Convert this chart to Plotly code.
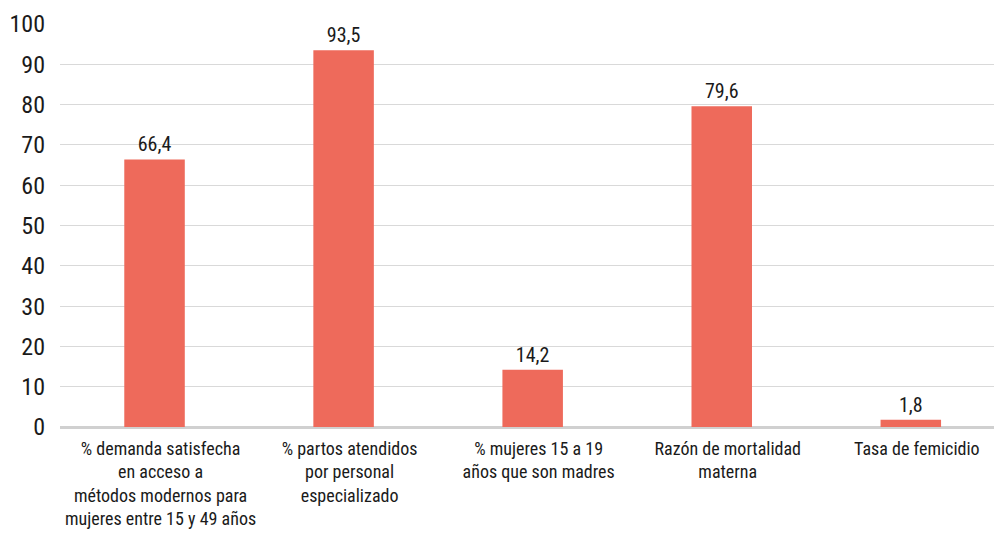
import plotly.graph_objects as go

categories = [
    "% demanda satisfecha<br>en acceso a<br>métodos modernos para<br>mujeres entre 15 y 49 años",
    "% partos atendidos<br>por personal<br>especializado",
    "% mujeres 15 a 19<br>años que son madres",
    "Razón de mortalidad<br>materna",
    "Tasa de femicidio",
]
values = [66.4, 93.5, 14.2, 79.6, 1.8]
y_ticks = [0, 10, 20, 30, 40, 50, 60, 70, 80, 90, 100]

FONT = "Roboto Condensed, Liberation Sans Narrow, Roboto, sans-serif"

fig = go.Figure(
    go.Bar(
        x=list(range(len(categories))),
        y=values,
        width=0.32,
        marker=dict(color="#EE6A5B", line=dict(width=0)),
        texttemplate="%{y:.1f}",
        textposition="outside",
        textfont=dict(family=FONT, size=20, color="#1a1a1a"),
        cliponaxis=False,
    )
)

fig.update_layout(
    width=994,
    height=533,
    margin=dict(l=60, r=0, t=24, b=106),
    plot_bgcolor="white",
    paper_bgcolor="white",
    separators=",.",
    showlegend=False,
    font=dict(family=FONT, color="#1a1a1a"),
)

fig.update_xaxes(
    range=[-0.5, 4.44],
    tickmode="array",
    tickvals=list(range(len(categories))),
    ticktext=categories,
    tickangle=0,
    tickfont=dict(family=FONT, size=18, color="#1a1a1a"),
    showgrid=False,
    zeroline=False,
    showline=False,
    ticks="",
    ticklabelstandoff=9,
    ticklabelshift=6,
    automargin=False,
)

fig.update_yaxes(
    range=[0, 100],
    tickvals=y_ticks,
    tickfont=dict(family=FONT, size=24, color="#1a1a1a"),
    showgrid=True,
    gridcolor="#d9d9d9",
    gridwidth=1,
    zeroline=True,
    zerolinecolor="#d0d0d0",
    zerolinewidth=3,
    showline=False,
    ticks="",
    ticklabelstandoff=14,
    automargin=False,
)

fig.write_html("out.html")
